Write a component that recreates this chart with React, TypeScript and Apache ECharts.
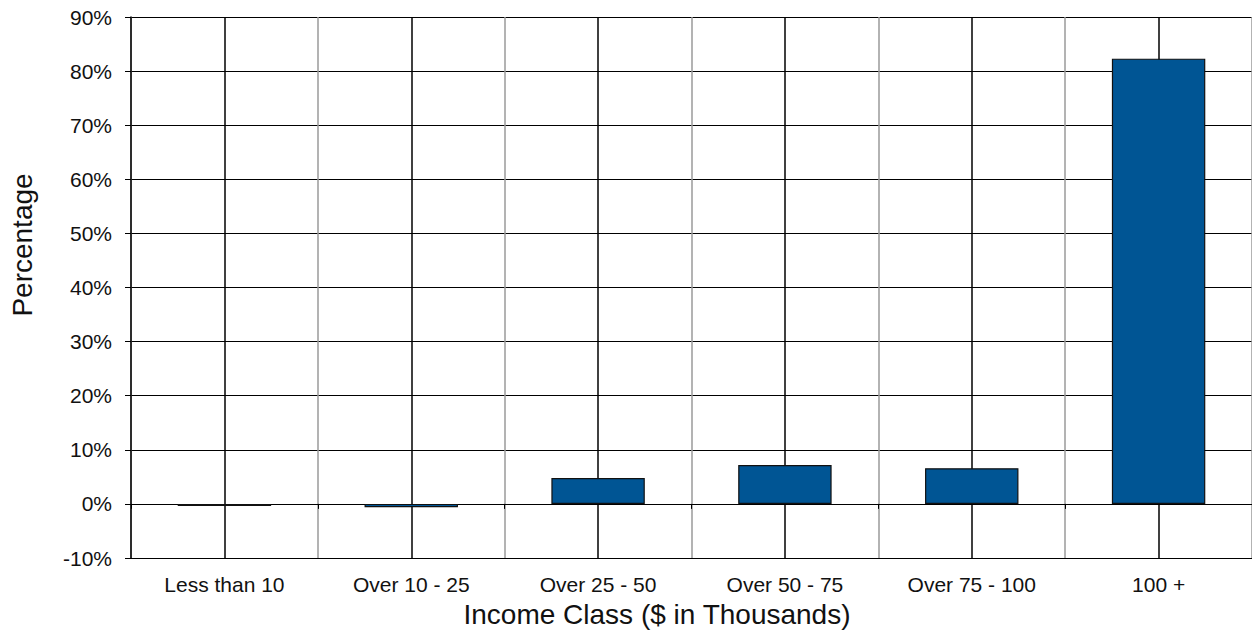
import React, { useEffect, useRef } from "react";
import * as echarts from "echarts";

const categories = ["Less than 10", "Over 10 - 25", "Over 25 - 50", "Over 50 - 75", "Over 75 - 100", "100 +"];
const percentages = [-0.4, -0.6, 4.8, 7.2, 6.6, 82.3];
const yMin = -10;
const yMax = 90;
const yStep = 10;
const xTitle = "Income Class ($ in Thousands)";
const yTitle = "Percentage";

const FONT = 'Arial, "Liberation Sans", sans-serif';
const TEXT = "#111111";

export default function App() {
  const ref = useRef<HTMLDivElement>(null);
  useEffect(() => {
    if (!ref.current) return;
    const chart = echarts.init(ref.current, undefined, { renderer: "svg" });
    chart.setOption({
      animation: false,
      backgroundColor: "#ffffff",
      grid: { left: 131, top: 17, bottom: 77, right: -4, containLabel: false },
      xAxis: [
        {
          type: "category",
          data: categories,
          position: "bottom",
          axisLine: { show: true, onZero: true, lineStyle: { color: "#000", width: 1 } },
          axisTick: { show: true, length: 5, lineStyle: { color: "#000" } },
          axisLabel: { show: false },
          splitLine: { show: true, lineStyle: { color: "#9a9a9a", width: 1.5 } },
        },
        {
          type: "category",
          data: categories,
          position: "bottom",
          axisLine: { show: false, onZero: false },
          axisTick: { show: false },
          axisLabel: { show: true, margin: 16, fontSize: 21, color: TEXT, fontFamily: FONT },
          splitLine: { show: false },
        },
      ],
      yAxis: {
        type: "value",
        min: yMin,
        max: yMax,
        interval: yStep,
        axisLine: { show: true, lineStyle: { color: "#000", width: 1.5 } },
        axisTick: { show: true, length: 6, lineStyle: { color: "#000" } },
        axisLabel: { formatter: "{value}%", fontSize: 21, color: TEXT, fontFamily: FONT, margin: 19 },
        splitLine: { show: true, lineStyle: { color: "#000", width: 1 } },
      },
      series: [
        {
          type: "bar",
          xAxisIndex: 0,
          data: percentages,
          barWidth: "50%",
          z: 3,
          itemStyle: { color: "#005594", borderColor: "#111", borderWidth: 1.2 },
          markLine: {
            silent: true,
            symbol: "none",
            z: 1,
            label: { show: false },
            lineStyle: { color: "#000", type: "solid", width: 1.5 },
            data: categories.map((c) => ({ xAxis: c })),
          },
        },
      ],
      graphic: [
        {
          type: "text",
          x: 657,
          y: 614,
          style: { text: xTitle, fontSize: 28, fill: TEXT, fontFamily: FONT, align: "center", verticalAlign: "middle" },
        },
        {
          type: "text",
          x: 22,
          y: 245,
          rotation: Math.PI / 2,
          style: { text: yTitle, fontSize: 28, fill: TEXT, fontFamily: FONT, align: "center", verticalAlign: "middle" },
        },
      ],
    });
    return () => chart.dispose();
  }, []);
  return <div ref={ref} style={{ position: "fixed", left: 0, top: 0, width: 1252, height: 635 }} />;
}
